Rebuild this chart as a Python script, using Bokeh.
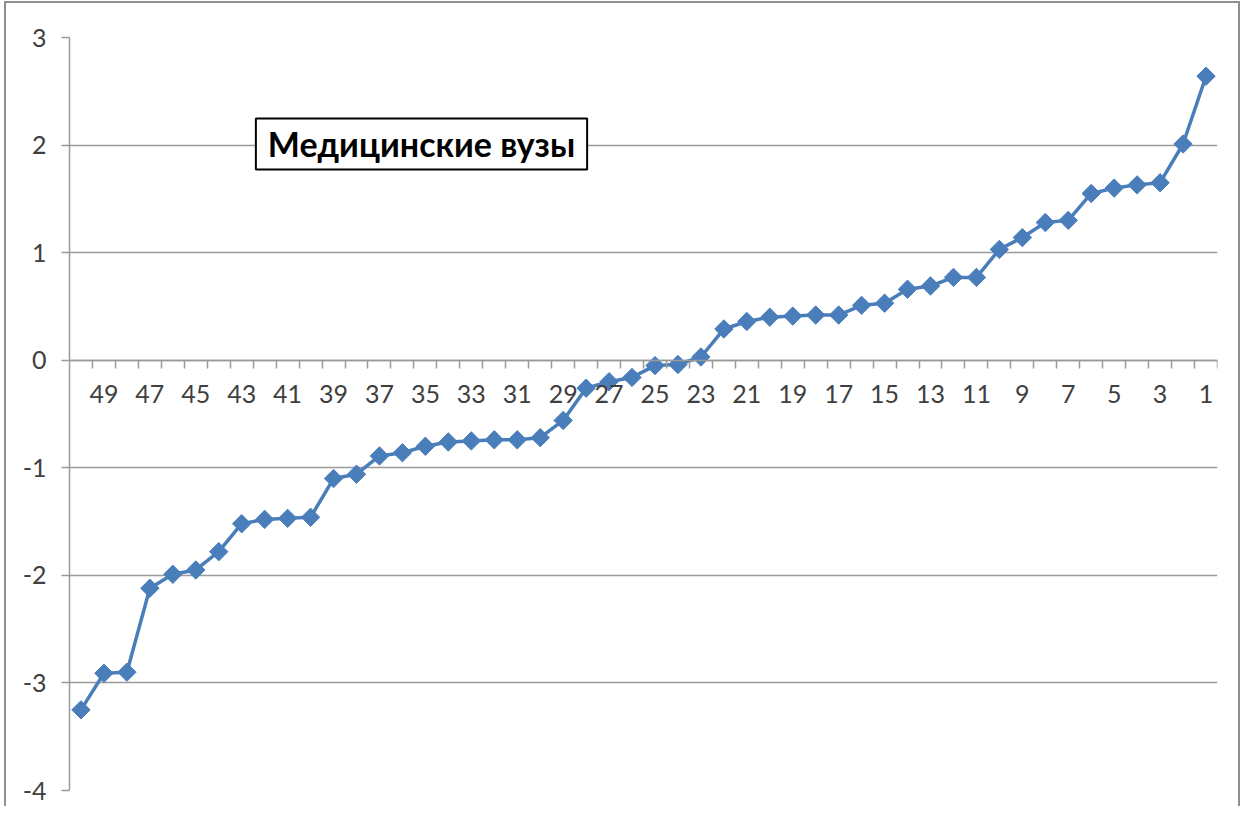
import math
from bokeh.plotting import figure
from bokeh.models import Range1d, FixedTicker, Label
from bokeh.embed import file_html
from bokeh.resources import INLINE

# Data
categories = list(range(50, 0, -1))
values = [-3.25, -2.91, -2.90, -2.12, -1.99, -1.95, -1.78, -1.52, -1.48, -1.47,
          -1.46, -1.10, -1.06, -0.89, -0.86, -0.80, -0.76, -0.75, -0.74, -0.74,
          -0.72, -0.56, -0.26, -0.20, -0.16, -0.05, -0.04, 0.03, 0.29, 0.36,
          0.40, 0.41, 0.42, 0.42, 0.51, 0.53, 0.66, 0.69, 0.77, 0.77,
          1.03, 1.14, 1.28, 1.30, 1.55, 1.60, 1.63, 1.65, 2.01, 2.64]
x_tick_positions = list(range(49, 0, -2))
x_tick_labels = [str(v) for v in x_tick_positions]
y_ticks = [-4, -3, -2, -1, 0, 1, 2, 3]
y_tick_labels = ["-4", "-3", "-2", "-1", "0", "1", "2", "3"]
title_text = "Медицинские вузы"

FONT = "Lato"
BLUE = "#4A7EBB"
GRAY = "#9a9a9a"
TEXT = "#404040"

p = figure(width=1236, height=805, output_backend="svg", toolbar_location=None,
           x_range=Range1d(max(categories) + 0.5, min(categories) - 0.5),
           y_range=Range1d(min(y_ticks), max(y_ticks)),
           min_border_left=63, min_border_right=25, min_border_top=34, min_border_bottom=18)
p.outline_line_color = None
p.background_fill_color = "white"
p.border_fill_color = "white"
p.styles = {"border-top": "2px solid #8f8f8f", "border-left": "2px solid #8f8f8f",
            "border-right": "2px solid #8f8f8f", "margin-left": "4px", "margin-top": "1px"}

p.line(categories, values, line_color=BLUE, line_width=3.5)
p.scatter(categories, values, marker="square", size=13, angle=math.pi / 4,
          fill_color=BLUE, line_color=BLUE)

# x axis at y=0
xa = p.xaxis[0]
xa.fixed_location = 0
boundaries = [c - 0.5 for c in categories] + [min(categories) - 0.5]
xa.ticker = FixedTicker(ticks=x_tick_positions, minor_ticks=boundaries)
xa.major_label_overrides = {pos: lab for pos, lab in zip(x_tick_positions, x_tick_labels)}
xa.axis_line_color = GRAY
xa.axis_line_width = 1.5
xa.major_tick_line_color = None
xa.major_tick_out = 8
xa.major_tick_in = 0
xa.minor_tick_line_color = GRAY
xa.minor_tick_line_width = 1.5
xa.minor_tick_out = 8
xa.minor_tick_in = 0
xa.major_label_standoff = 17
xa.major_label_text_font = FONT
xa.major_label_text_font_size = "25px"
xa.major_label_text_color = TEXT

ya = p.yaxis[0]
ya.ticker = FixedTicker(ticks=y_ticks, minor_ticks=[])
ya.major_label_overrides = {pos: lab for pos, lab in zip(y_ticks, y_tick_labels)}
ya.axis_line_color = GRAY
ya.axis_line_width = 1.5
ya.major_tick_line_color = GRAY
ya.major_tick_line_width = 1.5
ya.major_tick_out = 8
ya.major_tick_in = 0
ya.minor_tick_line_color = None
ya.major_label_standoff = 15
ya.major_label_text_font = FONT
ya.major_label_text_font_size = "25px"
ya.major_label_text_color = TEXT

p.xgrid.visible = False
p.ygrid.ticker = FixedTicker(ticks=y_ticks)
p.ygrid.grid_line_color = GRAY
p.ygrid.grid_line_width = 1.5

lab = Label(x=352, y=2.01, x_units="screen", y_units="data", text=title_text,
            text_font=FONT, text_font_size="34px", text_font_style="bold",
            text_color="black", text_align="center", text_baseline="middle",
            border_line_color="black", border_line_width=2,
            background_fill_color="white", padding=(12, 5))
p.add_layout(lab)

open("out.html", "w").write(file_html(p, INLINE))
